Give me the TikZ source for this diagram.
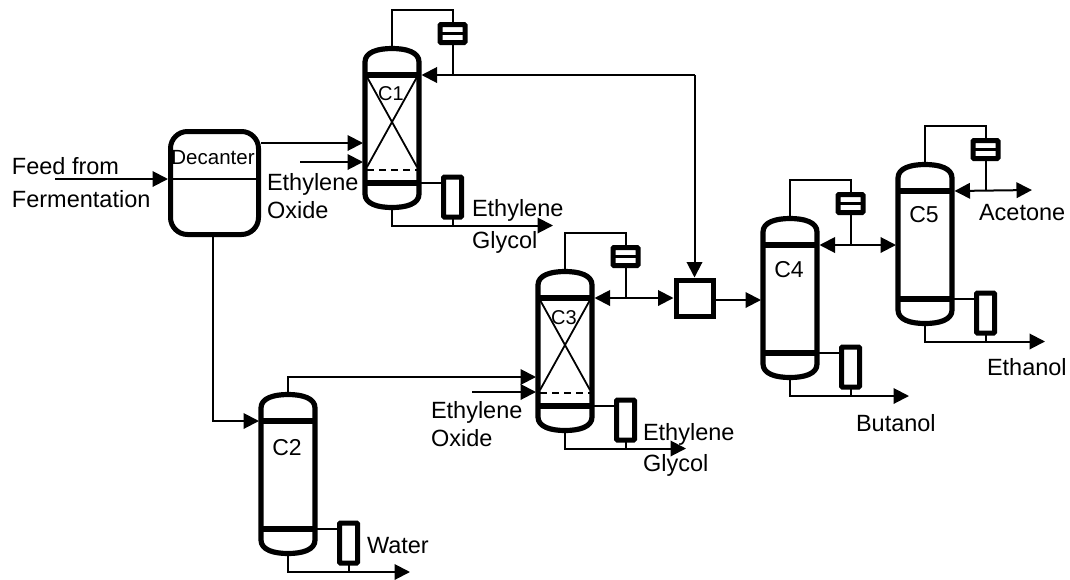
\documentclass[tikz,border=0pt]{standalone}
\usepackage{fontspec}
\setmainfont{Liberation Sans}
\usetikzlibrary{arrows.meta,calc}
\tikzset{
  pipe/.style={line width=2pt,line join=miter},
  flow/.style={pipe,-{Triangle[length=15.5pt,width=15.5pt]}},
  biflow/.style={pipe,{Triangle[length=15.5pt,width=15.5pt]}-{Triangle[length=15.5pt,width=15.5pt]}},
  vessel/.style={line width=5.2pt,line join=round},
  tray/.style={line width=6pt},
  packing/.style={line width=1.8pt},
  condenser/.style={draw,fill=white,line width=5pt,rounded corners=1pt,minimum width=25pt,minimum height=18pt,inner sep=0pt,outer sep=0pt},
  reboiler/.style={draw,fill=white,line width=5pt,rounded corners=1pt,minimum width=18pt,minimum height=40pt,inner sep=0pt,outer sep=0pt},
  lab/.style={anchor=base west,inner sep=0pt,outer sep=0pt,font=\fontsize{23.5}{26}\selectfont},
  clab/.style={anchor=base,inner sep=0pt,outer sep=0pt}
}
% #1 name, #2 centre x, #3 top y, #4 label y (cap centre), #5 label size
\newcommand{\distcol}[5]{%
  \path[vessel,draw=black,fill=white]
    ({#2-27},{#3+16}) .. controls ({#2-27},{#3+6}) and ({#2-14},{#3+2.5}) .. ({#2},{#3+2.5})
    .. controls ({#2+14},{#3+2.5}) and ({#2+27},{#3+6}) .. ({#2+27},{#3+16})
    -- ({#2+27},{#3+148}) .. controls ({#2+27},{#3+158}) and ({#2+14},{#3+161.5}) .. ({#2},{#3+161.5})
    .. controls ({#2-14},{#3+161.5}) and ({#2-27},{#3+158}) .. ({#2-27},{#3+148}) -- cycle;
  \draw[tray] ({#2-27},{#3+29}) -- ({#2+27},{#3+29});
  \draw[tray] ({#2-27},{#3+137}) -- ({#2+27},{#3+137});
  \coordinate (#1top) at ({#2},{#3+1});
  \coordinate (#1bot) at ({#2},{#3+164});
  \coordinate (#1refl) at ({#2+29.5},{#3+29});
  \coordinate (#1botl) at ({#2+27},{#3+137});
  \node[reboiler] (#1reb) at ({#2+60.5},{#3+151}) {};
  \draw[pipe] (#1botl) -- (#1botl -| #1reb.west);
  \coordinate (#1pipe) at ({#2+60.5},{#3+179.5});
  \draw[pipe] (#1reb.south) -- (#1pipe);
  \node[clab,font=\fontsize{#5}{#5}\selectfont] (#1lab) at ({#2-1},{#4+0.358*#5}) {#1};
}
% overhead condenser of a column: #1 name, #2 centre x, #3 top y
\newcommand{\overhead}[3]{%
  \node[condenser] (#1cond) at ({#2+60.5},{#3-12.5}) {};
  \draw[line width=3pt] (#1cond.west) -- (#1cond.east);
  \coordinate (#1ovh) at ({#2+60.5},{#3-36});
  \coordinate (#1jct) at ({#2+60.5},{#3+29});
  \draw[pipe] (#1top) |- (#1ovh) -- (#1cond.north);
  \draw[pipe] (#1cond.south) -- (#1jct);
}
% packing: #1 centre x, #2 top y
\newcommand{\packedbed}[2]{%
  \draw[packing] ({#1-25},{#2+31}) -- ({#1+25},{#2+121});
  \draw[packing] ({#1+25},{#2+31}) -- ({#1-25},{#2+121});
  \draw[packing,dash pattern=on 7pt off 5pt] ({#1-25},{#2+124}) -- ({#1+25},{#2+124});
}
\begin{document}
\begin{tikzpicture}[x=1pt,y=-1pt]
\useasboundingbox[fill=white] (0,0) rectangle (1070,579);

% columns
\distcol{C1}{392}{46}{93}{20}
\overhead{C1}{392}{46}
\packedbed{392}{46}
\distcol{C3}{565}{269}{317}{20}
\overhead{C3}{565}{269}
\packedbed{565}{269}
\distcol{C2}{288}{392}{447}{23}
\distcol{C4}{790}{216}{269}{23}
\overhead{C4}{790}{216}
\distcol{C5}{925}{162}{214}{23}
\overhead{C5}{925}{162}

% decanter
\node[draw,line width=5pt,rounded corners=17pt,minimum width=88pt,minimum height=103pt,inner sep=0pt,outer sep=0pt] (dec) at (214.5,183) {};
\node[inner sep=0pt,font=\fontsize{20.5}{22}\selectfont] (declab) at (213,158) {Decanter};
\coordinate (decW) at (168,179);
\coordinate (decE) at (258,179);
\draw[pipe] (decW) -- (decE);

% mixer
\node[draw,line width=5pt,minimum width=37pt,minimum height=36pt,inner sep=0pt,outer sep=2.5pt] (mix) at (694.5,298) {};

% free ends and column inlets
\coordinate (feed) at (55,179);
\coordinate (decout1) at (261,143);
\coordinate (c1in1) at (363,143);
\coordinate (eo1) at (300,162);
\coordinate (c1in2) at (363,162);
\coordinate (decdown) at (213,237);
\coordinate (c2in) at (259,421);
\coordinate (c3in1) at (536,377);
\coordinate (c3in2) at (536,392);
\coordinate (eo3) at (472,392);
\coordinate (c1corner) at (mix.north |- C1refl);
\coordinate (c3mix) at (mix.west |- C3refl);
\coordinate (mixout) at (mix.east |- 0,300);
\coordinate (c4in) at (761,300);
\coordinate (c5in) at (896,245);
\coordinate (acet) at (1032,190);
\coordinate (p1) at (553,225.5);
\coordinate (p2) at (410,572);
\coordinate (p3) at (686,448.5);
\coordinate (p4) at (909,396);
\coordinate (p5) at (1045,341.5);

% connectors
\draw[flow] (feed) -- (decW);
\draw[flow] (decout1) -- (c1in1);
\draw[flow] (eo1) -- (c1in2);
\draw[flow] (decdown) |- (c2in);
\draw[flow] (C2top) |- (c3in1);
\draw[flow] (eo3) -- (c3in2);
\draw[flow] (c1corner) -- (C1refl);
\draw[flow] (c1corner) -- (mix.north);
\draw[biflow] (C3refl) -- (c3mix);
\draw[flow] (mixout) -- (c4in);
\draw[biflow] (C4refl) -- (c5in);
\draw[biflow] (C5refl) -- (acet);
\draw[flow] (C1bot) |- (p1);
\draw[flow] (C2bot) |- (p2);
\draw[flow] (C3bot) |- (p3);
\draw[flow] (C4bot) |- (p4);
\draw[flow] (C5bot) |- (p5);

% labels
\node[lab] (t1) at (12,174.5) {Feed from};
\node[lab] (t2) at (12,207.5) {Fermentation};
\node[lab] (t3) at (267,190) {Ethylene};
\node[lab] (t4) at (267,218) {Oxide};
\node[lab] (t5) at (472,216.5) {Ethylene};
\node[lab] (t6) at (472,248.5) {Glycol};
\node[lab] (t7) at (431,418.5) {Ethylene};
\node[lab] (t8) at (431,446.5) {Oxide};
\node[lab] (t9) at (643,440.5) {Ethylene};
\node[lab] (t10) at (643,471.5) {Glycol};
\node[lab] (t11) at (367,553.5) {Water};
\node[lab] (t12) at (856,431) {Butanol};
\node[lab] (t13) at (987,375) {Ethanol};
\node[lab] (t14) at (979,220.5) {Acetone};
\end{tikzpicture}
\end{document}
